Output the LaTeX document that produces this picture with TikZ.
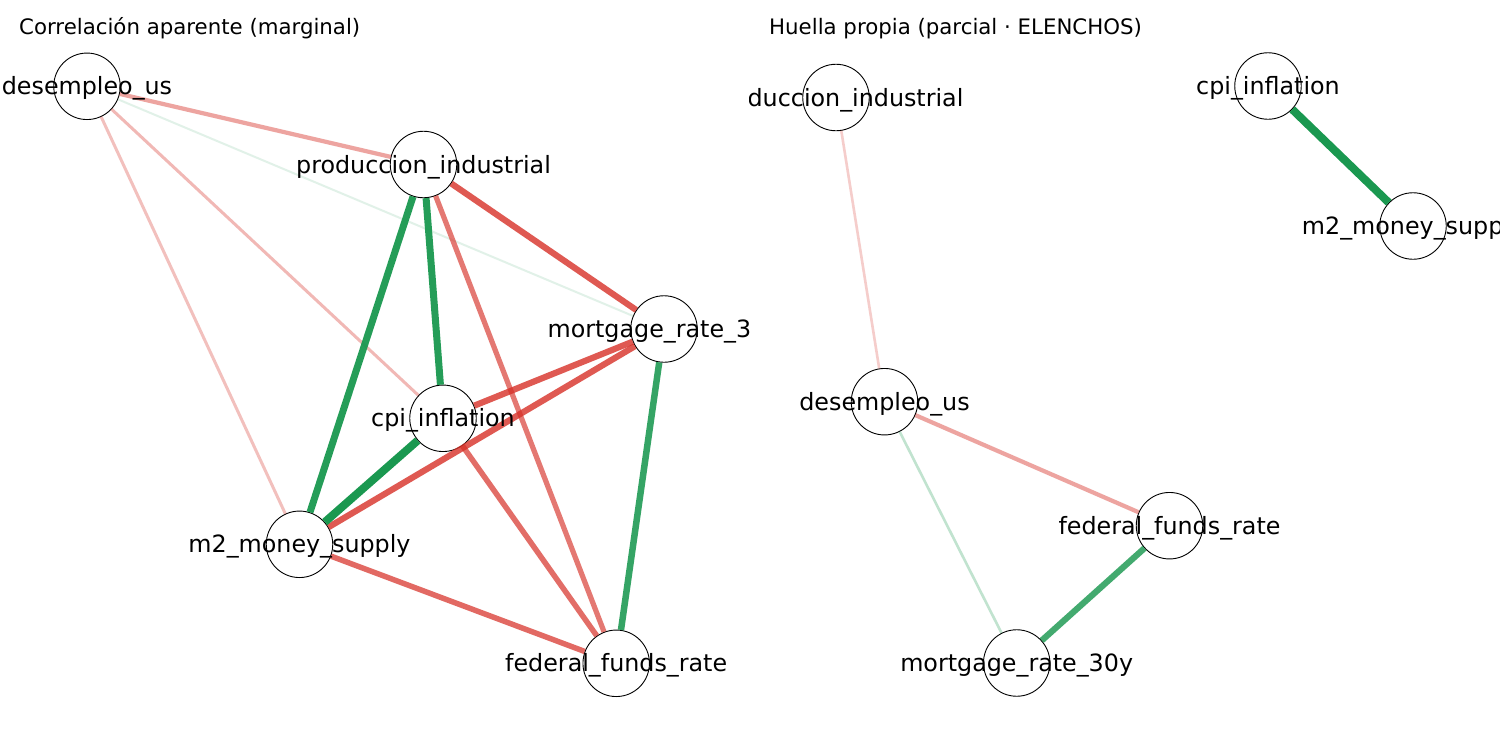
\documentclass[tikz,border=0pt]{standalone}
\usepackage{fontspec}
\setmainfont{DejaVu Sans}
\definecolor{negc}{RGB}{215,48,39}
\definecolor{posc}{RGB}{26,152,80}
\tikzset{
  vtx/.style={circle, draw=black, line width=0.9pt, fill=white, minimum size=66.5pt, inner sep=0pt},
  lbl/.style={inner sep=0pt, text height=22.2pt, text depth=5pt, font=\fontsize{23.8}{28}\selectfont},
  ttl/.style={inner sep=0pt, anchor=base west, text height=16pt, text depth=4pt, font=\fontsize{21.3}{26}\selectfont},
  neg/.style={draw=negc, draw opacity=#1},
  pos/.style={draw=posc, draw opacity=#1},
}
\begin{document}
\begin{tikzpicture}[x=1pt, y=-1pt]
\fill[white] (0,0) rectangle (1500,750);
\useasboundingbox (0,0) rectangle (1500,750);

\node[ttl] (t1) at (19,34) {Correlación aparente (marginal)};
\node[ttl] (t2) at (769,34) {Huella propia (parcial · ELENCHOS)};

% ---------------- left panel ----------------
\begin{scope}
\clip (0,0) rectangle (750.5,750);
\node[vtx] (Ldes) at (87,86.3) {};
\node[vtx] (Lpro) at (423.5,164.5) {};
\node[vtx] (Lmor) at (664,329) {};
\node[vtx] (Lcpi) at (443,418.3) {};
\node[vtx] (Lm2)  at (299.5,544.3) {};
\node[vtx] (Lfed) at (616.2,663.3) {};

\draw[neg=0.44, line width=4.2pt] (Ldes) -- (Lpro);
\draw[pos=0.13, line width=2pt]   (Ldes) -- (Lmor);
\draw[neg=0.34, line width=3pt]   (Ldes) -- (Lcpi);
\draw[neg=0.30, line width=3pt]   (Ldes) -- (Lm2);
\draw[neg=0.80, line width=6.2pt] (Lpro) -- (Lmor);
\draw[pos=0.95, line width=7pt]   (Lpro) -- (Lm2);
\draw[pos=0.95, line width=7pt]   (Lpro) -- (Lcpi);
\draw[neg=0.65, line width=5.2pt] (Lpro) -- (Lfed);
\draw[neg=0.80, line width=6.2pt] (Lmor) -- (Lcpi);
\draw[neg=0.80, line width=6.2pt] (Lmor) -- (Lm2);
\draw[pos=0.88, line width=6.5pt] (Lmor) -- (Lfed);
\draw[pos=1.00, line width=8pt]   (Lcpi) -- (Lm2);
\draw[neg=0.70, line width=5.5pt] (Lcpi) -- (Lfed);
\draw[neg=0.72, line width=5.5pt] (Lm2)  -- (Lfed);

\node[lbl] (LdesT) at (Ldes) {desempleo\_us};
\node[lbl] (LproT) at (Lpro) {produccion\_industrial};
\node[lbl] (LmorT) at (Lmor) {mortgage\_rate\_30y};
\node[lbl] (LcpiT) at (Lcpi) {cpi\_inflation};
\node[lbl] (Lm2T)  at (Lm2)  {m2\_money\_supply};
\node[lbl] (LfedT) at (Lfed) {federal\_funds\_rate};
\end{scope}

% ---------------- right panel ----------------
\begin{scope}
\clip (749.5,0) rectangle (1500,750);
\node[vtx] (Rpro) at (836,97.5) {};
\node[vtx] (Rcpi) at (1268,86) {};
\node[vtx] (Rm2)  at (1413,226) {};
\node[vtx] (Rdes) at (884.5,401.7) {};
\node[vtx] (Rfed) at (1169.5,525.7) {};
\node[vtx] (Rmor) at (1016.7,663) {};

\draw[neg=0.24, line width=2.6pt] (Rpro) -- (Rdes);
\draw[pos=1.00, line width=8pt]   (Rcpi) -- (Rm2);
\draw[neg=0.44, line width=4.2pt] (Rdes) -- (Rfed);
\draw[pos=0.27, line width=2.6pt] (Rdes) -- (Rmor);
\draw[pos=0.82, line width=6.2pt] (Rfed) -- (Rmor);

\node[lbl] (RproT) at (Rpro) {produccion\_industrial};
\node[lbl] (RcpiT) at (Rcpi) {cpi\_inflation};
\node[lbl] (Rm2T)  at (Rm2)  {m2\_money\_supply};
\node[lbl] (RdesT) at (Rdes) {desempleo\_us};
\node[lbl] (RfedT) at (Rfed) {federal\_funds\_rate};
\node[lbl] (RmorT) at (Rmor) {mortgage\_rate\_30y};
\end{scope}
\end{tikzpicture}
\end{document}
